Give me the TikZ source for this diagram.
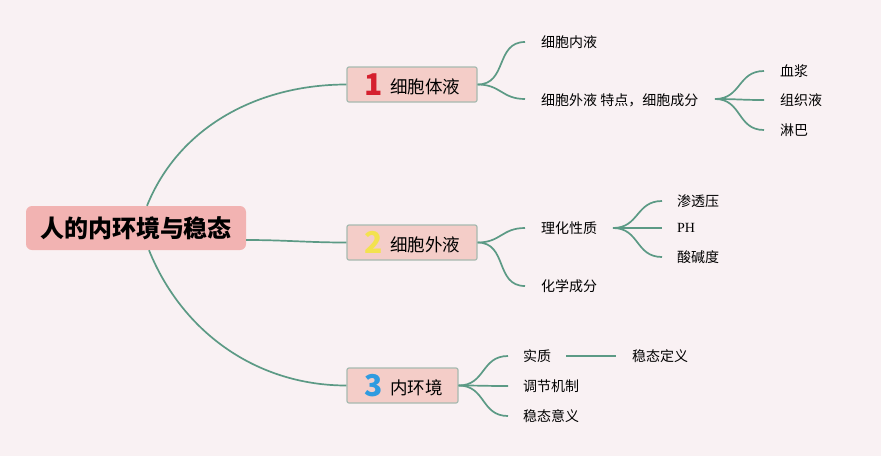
\documentclass[tikz,border=0pt]{standalone}
\usepackage{fontspec}
\setmainfont{Noto Sans CJK SC}
\newfontfamily\phfont{Liberation Serif}
\definecolor{bgc}{HTML}{F9F1F3}
\definecolor{rootc}{HTML}{F2B3B2}
\definecolor{boxc}{HTML}{F4CDC8}
\definecolor{boxline}{HTML}{A7BAB0}
\definecolor{linec}{HTML}{5C9A85}
\definecolor{numred}{HTML}{D5202E}
\definecolor{numyel}{HTML}{F3E24F}
\definecolor{numblue}{HTML}{2F9BE0}
\newcommand{\topicnum}[2]{\hspace*{17pt}\rlap{\raisebox{-2pt}{\color{#1}\fontsize{30}{30}\selectfont\bfseries #2}}\hspace*{26pt}}
\begin{document}
\begin{tikzpicture}[x=1pt,y=-1pt,
  rootbox/.style={fill=rootc, rounded corners=6pt, minimum width=220pt, minimum height=44pt, inner sep=0pt, font=\fontsize{24}{28}\selectfont\bfseries},
  topicbox/.style={fill=boxc, draw=boxline, line width=1.2pt, rounded corners=2pt, minimum height=35pt, inner sep=0pt, font=\fontsize{17.5}{20}\selectfont},
  leaf/.style={anchor=west, inner sep=0pt, font=\fontsize{14}{16}\selectfont},
  conn/.style={draw=linec, line width=1.7pt},
  br/.style={conn, out=0, in=180, looseness=1.2}]
\fill[bgc] (0,0) rectangle (881,456);
\useasboundingbox (0,0) rectangle (881,456);

% root
\node[rootbox] (root) at (136,228) {人的内环境与稳态};

% topic boxes
\node[topicbox, minimum width=130pt] (t1) at (412,84.5) {\makebox[130pt][l]{\topicnum{numred}{1}细胞体液}};
\node[topicbox, minimum width=130pt] (t2) at (412,242.5) {\makebox[130pt][l]{\topicnum{numyel}{2}细胞外液}};
\node[topicbox, minimum width=111pt] (t3) at (402.5,385.5) {\makebox[111pt][l]{\topicnum{numblue}{3}内环境}};

% root connectors
\draw[conn] ([xshift=11pt]root.north) to[out=68, in=180, looseness=0.95] (t1.west);
\draw[conn] ([yshift=-12pt]root.east) to[out=0, in=180] (t2.west);
\draw[conn] ([xshift=13pt]root.south) to[out=-68, in=180, looseness=0.95] (t3.west);

% branch 1
\node[leaf] (a1) at (541,42) {细胞内液};
\node[leaf] (a2) at (541,100) {细胞外液 特点，细胞成分};
\coordinate (a1e) at (525,42);
\coordinate (a2e) at (525,99);
\draw[br] (t1.east) to (a1e);
\draw[br] (t1.east) to (a2e);
\coordinate (a2j) at (715,99);
\node[leaf] (b1) at (780,71) {血浆};
\node[leaf] (b2) at (780,100) {组织液};
\node[leaf] (b3) at (780,130) {淋巴};
\draw[br] (a2j) to ([xshift=-16pt]b1.west);
\draw[br] (a2j) to ([xshift=-16pt]b2.west);
\draw[br] (a2j) to ([xshift=-16pt]b3.west);

% branch 2
\node[leaf] (c1) at (541,228) {理化性质};
\node[leaf] (c2) at (541,286) {化学成分};
\draw[br] (t2.east) to ([xshift=-16pt]c1.west);
\draw[br] (t2.east) to ([xshift=-16pt]c2.west);
\coordinate (c1j) at (613,228);
\node[leaf] (d1) at (677,201) {渗透压};
\node[leaf, font=\phfont\fontsize{14}{16}\selectfont] (d2) at (677,228) {PH};
\node[leaf] (d3) at (677,257) {酸碱度};
\draw[br] (c1j) to ([xshift=-15pt]d1.west);
\draw[br] (c1j) to ([xshift=-15pt]d2.west);
\draw[br] (c1j) to ([xshift=-15pt]d3.west);

% branch 3
\node[leaf] (e1) at (523,356) {实质};
\node[leaf] (e2) at (523,386) {调节机制};
\node[leaf] (e3) at (523,416) {稳态意义};
\draw[br] (t3.east) to ([xshift=-15pt]e1.west);
\draw[br] (t3.east) to ([xshift=-15pt]e2.west);
\draw[br] (t3.east) to ([xshift=-15pt]e3.west);
\node[leaf] (f1) at (632,356) {稳态定义};
\draw[conn] ([xshift=15pt]e1.east) -- ([xshift=-16pt]f1.west);
\end{tikzpicture}
\end{document}
